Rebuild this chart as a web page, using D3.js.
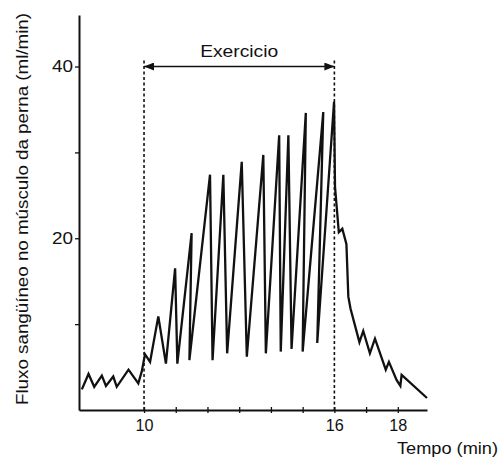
<!DOCTYPE html>
<html>
<head>
<meta charset="utf-8">
<script src="https://cdn.jsdelivr.net/npm/d3@7"></script>
<style>
  body { margin: 0; background: #fff; }
  text { font-family: "Liberation Sans", Arial, sans-serif; fill: #111; }
</style>
</head>
<body>
<div id="chart"></div>
<script>
// blood flow readings: [time in min, flow in ml/min]
var flow = [
  [8.04, 2.4], [8.25, 4.2], [8.43, 2.7], [8.67, 4.0], [8.80, 2.8], [9.03, 3.9],
  [9.14, 2.7], [9.51, 4.7], [9.82, 3.1], [9.93, 4.5], [10.03, 6.5], [10.19, 5.6],
  [10.45, 10.9], [10.69, 5.4], [10.98, 16.5], [11.05, 5.4], [11.50, 20.6], [11.43, 5.8],
  [12.08, 27.4], [12.16, 5.8], [12.50, 27.4], [12.62, 6.6], [13.08, 28.9], [13.24, 6.2],
  [13.76, 29.7], [13.84, 6.6], [14.26, 32.0], [14.31, 6.8], [14.55, 32.0], [14.65, 7.1],
  [15.10, 34.6], [15.00, 6.8], [15.65, 34.7], [15.46, 7.8], [15.99, 35.9],
  [16.02, 26.0], [16.14, 20.7], [16.25, 21.1], [16.38, 19.3], [16.44, 13.2], [16.51, 11.8],
  [16.79, 7.9], [16.91, 9.2], [17.12, 6.6], [17.28, 8.3], [17.62, 4.7], [17.72, 5.6],
  [17.96, 3.5], [18.08, 2.8], [18.12, 4.1], [18.92, 1.4]
];

var xTicks = [10, 11, 12, 13, 14, 15, 16, 17, 18];
var xLabels = [10, 16, 18];
var yTicks = [10, 20, 30, 40];
var yLabels = [20, 40];
var exercise = [10, 16]; // start / end of exercise (min)
var exerciseLabel = "Exercicio";
var xTitle = "Tempo (min)";
var yTitle = "Fluxo sangüíneo no músculo da perna (ml/min)";

var width = 504, height = 457;

var x = d3.scaleLinear().domain([7.95, 18.92]).range([79, 427]);
var y = d3.scaleLinear().domain([0, 46]).range([410, 15]);

var svg = d3.select("#chart").append("svg")
    .attr("width", width)
    .attr("height", height);

// arrow heads for the exercise span
var defs = svg.append("defs");
defs.append("marker")
    .attr("id", "head")
    .attr("viewBox", "0 0 10 8")
    .attr("refX", 10).attr("refY", 4)
    .attr("markerWidth", 10).attr("markerHeight", 8)
    .attr("markerUnits", "userSpaceOnUse")
    .attr("orient", "auto-start-reverse")
  .append("path")
    .attr("d", "M0,0L10,4L0,8Z")
    .attr("fill", "#111");

// x axis
var xAxis = svg.append("g")
    .attr("transform", "translate(0," + y(0) + ")")
    .call(d3.axisBottom(x)
      .tickValues(xTicks)
      .tickSize(3)
      .tickSizeOuter(0)
      .tickPadding(7)
      .tickFormat(function(d) { return xLabels.indexOf(d) >= 0 ? d : ""; }));
xAxis.attr("font-size", 16).attr("font-family", "'Liberation Sans', Arial, sans-serif");
xAxis.select(".domain").attr("stroke", "#111").attr("stroke-width", 2);
xAxis.selectAll(".tick line").attr("y1", -3).attr("stroke", "#111").attr("stroke-width", 1.3);
xAxis.selectAll(".tick text")
    .attr("font-size", 16)
    .attr("textLength", 18)
    .attr("lengthAdjust", "spacingAndGlyphs")
    .attr("fill", "#111");

// y axis
var yAxis = svg.append("g")
    .attr("transform", "translate(" + x.range()[0] + ",0)")
    .call(d3.axisLeft(y)
      .tickValues(yTicks)
      .tickSize(4)
      .tickSizeOuter(0)
      .tickPadding(2)
      .tickFormat(function(d) { return yLabels.indexOf(d) >= 0 ? d : ""; }));
yAxis.attr("font-size", 16).attr("font-family", "'Liberation Sans', Arial, sans-serif");
yAxis.select(".domain").attr("stroke", "#111").attr("stroke-width", 2);
yAxis.selectAll(".tick line").attr("stroke", "#111").attr("stroke-width", 1.3);
yAxis.selectAll(".tick text")
    .attr("font-size", 16)
    .attr("textLength", 21)
    .attr("lengthAdjust", "spacingAndGlyphs")
    .attr("fill", "#111");

// dashed markers at start and end of exercise
svg.selectAll(".guide")
    .data(exercise)
  .enter().append("line")
    .attr("class", "guide")
    .attr("x1", function(d) { return x(d); })
    .attr("x2", function(d) { return x(d); })
    .attr("y1", y(40) - 6)
    .attr("y2", y(0))
    .attr("stroke", "#111")
    .attr("stroke-width", 1.6)
    .attr("stroke-dasharray", "3,2.5");

svg.append("line")
    .attr("x1", x(exercise[0]))
    .attr("x2", x(exercise[1]))
    .attr("y1", y(40))
    .attr("y2", y(40))
    .attr("stroke", "#111")
    .attr("stroke-width", 1.3)
    .attr("marker-start", "url(#head)")
    .attr("marker-end", "url(#head)");

svg.append("text")
    .attr("x", x((exercise[0] + exercise[1]) / 2))
    .attr("y", 57)
    .attr("text-anchor", "middle")
    .attr("textLength", 78)
    .attr("lengthAdjust", "spacingAndGlyphs")
    .style("font-size", "17px")
    .text(exerciseLabel);

// the flow trace
var line = d3.line()
    .x(function(d) { return x(d[0]); })
    .y(function(d) { return y(d[1]); });

svg.append("path")
    .datum(flow)
    .attr("d", line)
    .attr("fill", "none")
    .attr("stroke", "#111")
    .attr("stroke-width", 2.3);

// axis titles
svg.append("text")
    .attr("x", 397)
    .attr("y", 454)
    .attr("textLength", 101)
    .attr("lengthAdjust", "spacingAndGlyphs")
    .style("font-size", "16px")
    .text(xTitle);

svg.append("text")
    .attr("transform", "translate(28,209) rotate(-90)")
    .attr("text-anchor", "middle")
    .attr("textLength", 392)
    .attr("lengthAdjust", "spacingAndGlyphs")
    .style("font-size", "17px")
    .text(yTitle);
</script>
</body>
</html>
